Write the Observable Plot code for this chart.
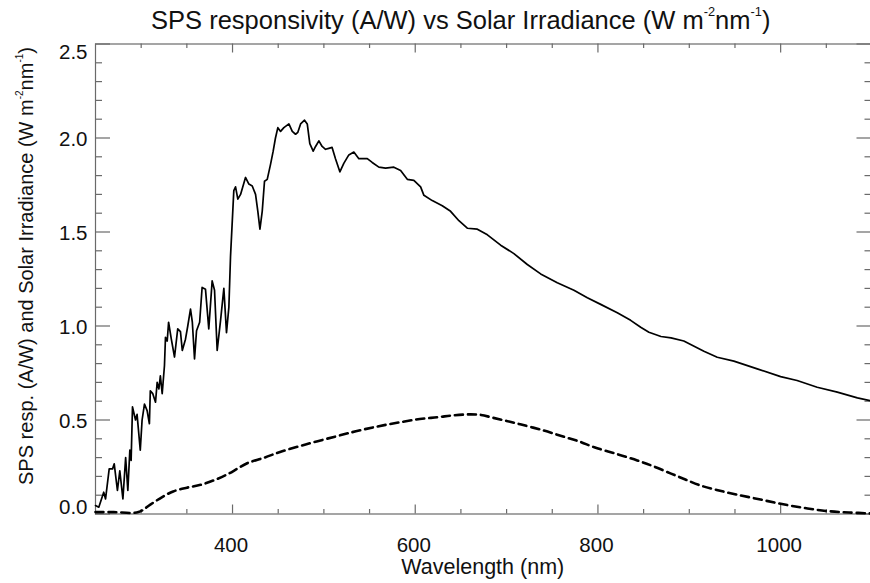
<!DOCTYPE html>
<html>
<head>
<meta charset="utf-8">
<script src="https://cdn.jsdelivr.net/npm/d3@7"></script>
<script src="https://cdn.jsdelivr.net/npm/@observablehq/plot@0.6"></script>
<style>
  html, body { margin: 0; padding: 0; background: #fff; overflow: hidden; }
  #chart { width: 870px; height: 583px; overflow: hidden; }
</style>
</head>
<body>
<div id="chart"></div>
<script>
// Solar irradiance (W m^-2 nm^-1), solid line
const solarWavelength = [250,253.6,259,261,265,268.7,270.5,274,276.6,280,283,285.4,287.6,289,290.5,293.8,295.5,299,301,303.6,306.5,309,310,312.7,315.7,317.5,319.4,321,323,325.5,326.6,328.5,330,333,336.5,340,343,345,348.5,351,354,356,358.4,360.6,364,366.7,370.4,374,377.7,380.3,383.2,386.9,390.5,393.4,396,397.8,401.4,403.3,405.8,408.8,414.2,417.9,421.6,425.2,427.7,430,432.5,435,438,441.6,444.5,447,449.6,452.6,456.2,461.7,465.4,469,471.5,474.5,478.8,481.8,484.6,488.3,490.9,494.5,498.1,501.8,505.4,509,512.7,517.5,521.8,527.3,532.8,538.3,547.5,552.9,560.2,567.5,576.6,584,591.3,598.5,605.9,609.5,618.6,629.6,638.7,647.8,657,668,679,693.5,708,722.7,737.3,755.5,773.7,788.4,803,821.2,835.8,846.8,855.8,869,880,894,916,930.6,948.8,974.4,1000,1018,1040,1062,1084,1100];
const solarIrradiance = [0.045,0.036,0.116,0.08,0.24,0.24,0.267,0.125,0.23,0.08,0.30,0.125,0.34,0.285,0.57,0.50,0.53,0.34,0.50,0.585,0.55,0.48,0.655,0.64,0.595,0.70,0.665,0.735,0.64,0.79,0.94,0.92,1.02,0.93,0.835,0.985,0.97,0.87,0.93,1.0,1.09,1.02,0.825,0.975,1.02,1.205,1.195,0.985,1.24,1.19,0.87,1.03,1.20,0.965,1.10,1.37,1.72,1.74,1.675,1.70,1.79,1.755,1.745,1.70,1.61,1.515,1.61,1.77,1.78,1.86,1.93,2.0,2.055,2.035,2.055,2.075,2.035,2.02,2.03,2.075,2.095,2.075,1.97,1.93,1.955,1.985,1.955,1.94,1.945,1.95,1.89,1.82,1.865,1.91,1.925,1.89,1.89,1.87,1.845,1.84,1.845,1.827,1.78,1.775,1.74,1.695,1.667,1.64,1.61,1.56,1.52,1.515,1.485,1.43,1.385,1.327,1.277,1.23,1.19,1.15,1.115,1.07,1.03,0.993,0.967,0.944,0.937,0.92,0.866,0.834,0.813,0.772,0.731,0.71,0.674,0.648,0.618,0.60];

// SPS responsivity (A/W), dashed line
const respWavelength = [250,270,297,310,323,335,350,365,380,394,405,416,435,452,480,511,535,558,580,605,625,642,660,672,685,700,715,740,760,780,796,820,843,860,880,895,912,930,950,975,1000,1025,1050,1075,1100];
const responsivity = [0.01,0.01,0.01,0.05,0.09,0.12,0.14,0.155,0.18,0.21,0.24,0.27,0.30,0.33,0.37,0.41,0.44,0.465,0.485,0.505,0.515,0.525,0.53,0.527,0.512,0.495,0.477,0.445,0.415,0.385,0.355,0.32,0.285,0.255,0.215,0.185,0.152,0.128,0.105,0.08,0.054,0.033,0.016,0.008,0.003];

// Axis ticks
const xMajorTicks = [400, 600, 800, 1000];
const xMinorTicks = [300, 350, 450, 500, 550, 650, 700, 750, 850, 900, 950, 1050];
const yMajorTicks = [0, 0.5, 1.0, 1.5, 2.0, 2.5];
const yMinorTicks = [0.1,0.2,0.3,0.4,0.6,0.7,0.8,0.9,1.1,1.2,1.3,1.4,1.6,1.7,1.8,1.9,2.1,2.2,2.3,2.4];
const yInnerLabels = [0.5, 1.0, 1.5, 2.0];

const titleText = "SPS responsivity (A/W) vs Solar Irradiance (W m^{-2}nm^{-1})";
const yLabelText = "SPS resp. (A/W) and Solar Irradiance (W m^{-2}nm^{-1})";
const xLabelText = "Wavelength (nm)";

const solar = solarWavelength.map((w, i) => ({w, v: solarIrradiance[i]}));
const resp = respWavelength.map((w, i) => ({w, v: responsivity[i]}));

const W = 872, Hh = 583;
const mL = 95, mR = 0.5, mT = 43.5, mB = 69.5;
const fw = W - mL - mR, fh = Hh - mT - mB;
const axisColor = "#6a6a6a";
const fmt = d3.format(".1f");

const chart = Plot.plot({
  width: W,
  height: Hh,
  marginLeft: mL, marginRight: mR, marginTop: mT, marginBottom: mB,
  style: {fontFamily: "'Liberation Sans', Arial, Helvetica, sans-serif", background: "#fff", maxWidth: "none", overflow: "visible"},
  x: {domain: [250, 1100]},
  y: {domain: [0, 2.5]},
  marks: [
    Plot.frame({stroke: axisColor, strokeWidth: 1.2}),
    // bottom & top ticks (inward)
    Plot.tickX(xMajorTicks, {x: d => d, insetTop: fh - 9, stroke: axisColor, strokeWidth: 1.2}),
    Plot.tickX(xMinorTicks, {x: d => d, insetTop: fh - 4.5, stroke: axisColor, strokeWidth: 1.2}),
    Plot.tickX(xMajorTicks, {x: d => d, insetBottom: fh - 9, stroke: axisColor, strokeWidth: 1.2}),
    Plot.tickX(xMinorTicks, {x: d => d, insetBottom: fh - 4.5, stroke: axisColor, strokeWidth: 1.2}),
    // left & right ticks (inward)
    Plot.tickY(yMajorTicks, {y: d => d, insetRight: fw - 15, stroke: axisColor, strokeWidth: 1.2}),
    Plot.tickY(yMinorTicks, {y: d => d, insetRight: fw - 7, stroke: axisColor, strokeWidth: 1.2}),
    Plot.tickY(yMajorTicks, {y: d => d, insetLeft: fw - 15, stroke: axisColor, strokeWidth: 1.2}),
    Plot.tickY(yMinorTicks, {y: d => d, insetLeft: fw - 7, stroke: axisColor, strokeWidth: 1.2}),
    // tick labels
    Plot.axisX({ticks: xMajorTicks, tickSize: 0, tickPadding: 23, fontSize: 20.5, fill: "#111", label: null, tickFormat: d => String(d), dx: -1.5}),
    Plot.axisY({ticks: yInnerLabels, tickSize: 0, tickPadding: 8, fontSize: 20.5, fill: "#111", label: null, tickFormat: fmt, dy: 1}),
    Plot.axisY({ticks: [0], tickSize: 0, tickPadding: 8, fontSize: 20.5, fill: "#111", label: null, tickFormat: fmt, dy: -6.5}),
    Plot.axisY({ticks: [2.5], tickSize: 0, tickPadding: 8, fontSize: 20.5, fill: "#111", label: null, tickFormat: fmt, dy: 8}),
    // data
    Plot.line(resp, {x: "w", y: "v", stroke: "#000", strokeWidth: 2.6, strokeDasharray: "8,5", curve: "catmull-rom"}),
    Plot.line(solar, {x: "w", y: "v", stroke: "#000", strokeWidth: 1.7, curve: "linear"}),
    // titles
    Plot.text([titleText], {frameAnchor: "top", dx: -23, dy: -15, lineAnchor: "bottom", fontSize: 25.5, fill: "#111"}),
    Plot.text([yLabelText], {frameAnchor: "left", textAnchor: "middle", dx: -69, dy: -13, rotate: -90, fontSize: 20, fill: "#111"}),
    Plot.text([xLabelText], {frameAnchor: "bottom", dx: -1, dy: 60, lineAnchor: "bottom", fontSize: 21.5, fill: "#111"})
  ]
});

// Render ^{...} as real superscript tspans
d3.select(chart).selectAll("text").each(function () {
  const el = this;
  const raw = el.textContent;
  if (!raw.includes("^{")) return;
  const parts = raw.split(/(\^\{[^}]*\})/);
  const fs = parseFloat(el.getAttribute("font-size")) || parseFloat(el.parentNode.getAttribute("font-size")) || 20;
  el.textContent = "";
  parts.forEach(p => {
    if (!p) return;
    const t = document.createElementNS("http://www.w3.org/2000/svg", "tspan");
    if (p.startsWith("^{")) {
      t.textContent = p.slice(2, -1);
      t.setAttribute("font-size", (fs * 0.5).toFixed(1));
      t.setAttribute("baseline-shift", (fs * 0.5).toFixed(1));
    } else {
      t.textContent = p;
    }
    el.appendChild(t);
  });
});

document.getElementById("chart").appendChild(chart);
</script>
</body>
</html>
